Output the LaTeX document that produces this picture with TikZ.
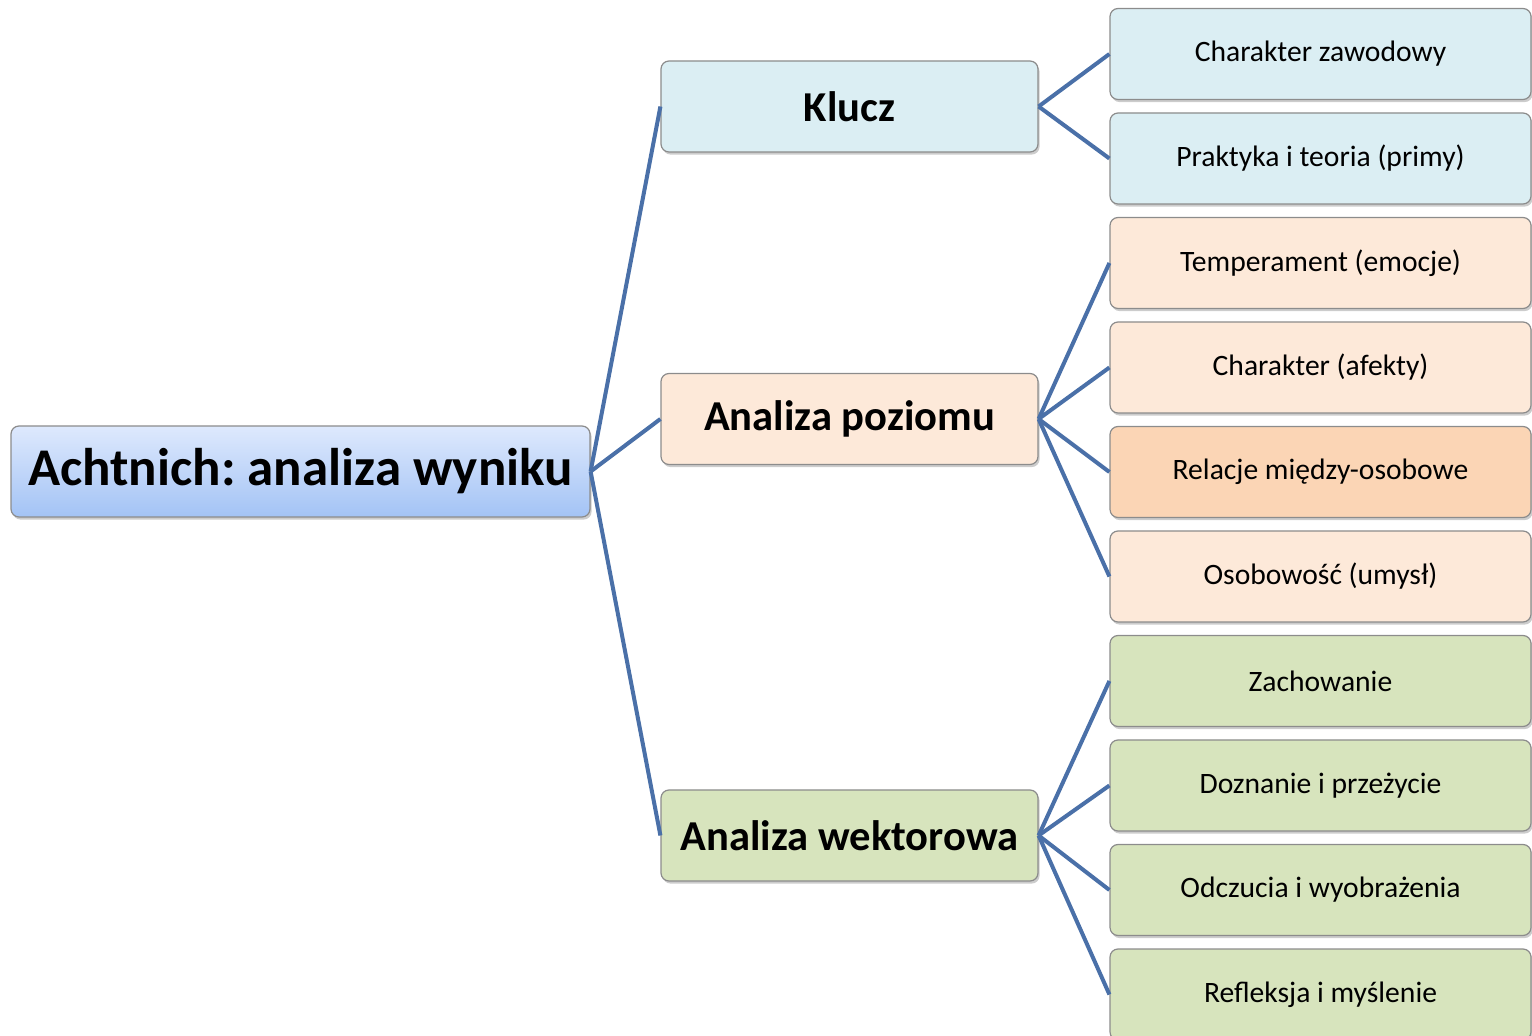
\documentclass[tikz,border=0pt]{standalone}
\usepackage{fontspec}
\setmainfont{Carlito}
\usepackage{tikz}
\usetikzlibrary{positioning,shadows}
\frenchspacing
\definecolor{BranchBlue}{RGB}{74,112,168}
\definecolor{BoxEdge}{RGB}{140,140,140}
\definecolor{RootTop}{RGB}{222,233,253}
\definecolor{RootBottom}{RGB}{163,195,245}
\definecolor{KeyFill}{RGB}{219,238,243}
\definecolor{LevelFill}{RGB}{253,233,217}
\definecolor{LevelMark}{RGB}{251,213,181}
\definecolor{VectorFill}{RGB}{215,228,189}
\tikzset{BaseBox/.style={%
    shape=rectangle,%
    rounded corners=4pt,%
    draw=BoxEdge,%
    line width=0.6pt,%
    minimum height=45.5pt,%
    inner sep=2pt,%
    drop shadow={shadow xshift=0.8pt,shadow yshift=-1.3pt,opacity=0.4},%
}}
\tikzset{RootBox/.style={%
    BaseBox,%
    top color=RootTop,%
    bottom color=RootBottom,%
    minimum width=289.5pt,%
    font=\fontsize{26.5}{30}\selectfont\bfseries,%
}}
\tikzset{TopicBox/.style={%
    BaseBox,%
    minimum width=188.5pt,%
    font=\fontsize{21.3}{26}\selectfont\bfseries,%
}}
\tikzset{LeafBox/.style={%
    BaseBox,%
    minimum width=210.5pt,%
    font=\fontsize{14.8}{17}\selectfont,%
}}
\tikzset{Branch/.style={%
    -,%
    draw=BranchBlue,%
    line width=2pt,%
}}

\begin{document}
\begin{tikzpicture}[x=0.5pt,y=-0.5pt]
    \useasboundingbox (0,0) rectangle (1532,1036);
    \node[RootBox] (root) at (300.5,471.5) {Achtnich: analiza wyniku};
    \node[TopicBox, fill=KeyFill] (klucz) at (849.5,106.5) {Klucz};
    \node[TopicBox, fill=LevelFill] (poziom) at (849.5,419) {Analiza poziomu};
    \node[TopicBox, fill=VectorFill] (wektor) at (849.5,835.5) {Analiza wektorowa};

    \node[LeafBox, fill=KeyFill] (k1) at (1320.5,54) {Charakter zawodowy};
    \node[LeafBox, fill=KeyFill, below=6.15pt of k1] (k2) {Praktyka i teoria (primy)};
    \node[LeafBox, fill=LevelFill, below=6.15pt of k2] (p1) {Temperament (emocje)};
    \node[LeafBox, fill=LevelFill, below=6.15pt of p1] (p2) {Charakter (afekty)};
    \node[LeafBox, fill=LevelMark, below=6.15pt of p2] (p3) {Relacje między-osobowe};
    \node[LeafBox, fill=LevelFill, below=6.15pt of p3] (p4) {Osobowość (umysł)};
    \node[LeafBox, fill=VectorFill, below=6.15pt of p4] (w1) {Zachowanie};
    \node[LeafBox, fill=VectorFill, below=6.15pt of w1] (w2) {Doznanie i przeżycie};
    \node[LeafBox, fill=VectorFill, below=6.15pt of w2] (w3) {Odczucia i wyobrażenia};
    \node[LeafBox, fill=VectorFill, below=6.15pt of w3] (w4) {Refleksja i myślenie};

    \draw[Branch] (root.east) -- (klucz.west);
    \draw[Branch] (root.east) -- (poziom.west);
    \draw[Branch] (root.east) -- (wektor.west);
    \draw[Branch] (klucz.east) -- (k1.west);
    \draw[Branch] (klucz.east) -- (k2.west);
    \draw[Branch] (poziom.east) -- (p1.west);
    \draw[Branch] (poziom.east) -- (p2.west);
    \draw[Branch] (poziom.east) -- (p3.west);
    \draw[Branch] (poziom.east) -- (p4.west);
    \draw[Branch] (wektor.east) -- (w1.west);
    \draw[Branch] (wektor.east) -- (w2.west);
    \draw[Branch] (wektor.east) -- (w3.west);
    \draw[Branch] (wektor.east) -- (w4.west);
\end{tikzpicture}
\end{document}
